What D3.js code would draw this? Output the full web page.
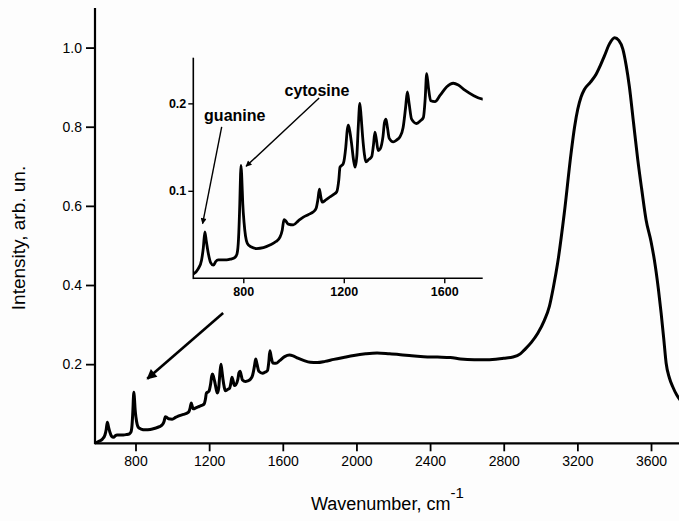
<!DOCTYPE html>
<html>
<head>
<meta charset="utf-8">
<script src="https://cdn.jsdelivr.net/npm/d3@7"></script>
<style>
  html, body { margin: 0; padding: 0; background: #fdfdfd; }
  svg { display: block; font-family: "Liberation Sans", Arial, sans-serif; }
</style>
</head>
<body>
<svg id="chart" width="679" height="521"></svg>
<script>
// ---- data ----
const wavenumber = [580, 601, 621, 634, 641, 647, 653, 661, 670, 681, 690, 700, 720, 734, 750, 767, 775, 781, 786, 789, 791, 794, 798, 803, 809, 816, 830, 853, 880, 906, 930, 946, 955, 962, 968, 979, 999, 1020, 1039, 1060, 1079, 1090, 1097, 1103, 1108, 1114, 1130, 1145, 1160, 1172, 1180, 1185, 1198, 1208, 1214, 1218, 1224, 1231, 1239, 1245, 1252, 1258, 1264, 1269, 1275, 1282, 1288, 1300, 1311, 1318, 1324, 1330, 1337, 1345, 1356, 1362, 1368, 1374, 1381, 1397, 1410, 1424, 1436, 1446, 1453, 1460, 1470, 1490, 1505, 1517, 1524, 1530, 1537, 1546, 1563, 1583, 1610, 1636, 1656, 1682, 1716, 1749, 1787, 1830, 1877, 1930, 1986, 2050, 2112, 2180, 2239, 2300, 2365, 2440, 2510, 2565, 2640, 2710, 2800, 2850, 2890, 2912, 2950, 2985, 3020, 3048, 3070, 3093, 3129, 3166, 3185, 3202, 3220, 3238, 3270, 3301, 3325, 3347, 3375, 3402, 3425, 3447, 3465, 3482, 3505, 3528, 3550, 3573, 3600, 3618, 3640, 3655, 3670, 3682, 3700, 3718, 3740, 3760];
const intensity  = [0.000, 0.005, 0.011, 0.021, 0.035, 0.053, 0.042, 0.028, 0.018, 0.015, 0.019, 0.021, 0.021, 0.021, 0.022, 0.024, 0.028, 0.045, 0.085, 0.118, 0.129, 0.115, 0.085, 0.064, 0.048, 0.040, 0.036, 0.034, 0.035, 0.038, 0.042, 0.047, 0.055, 0.067, 0.066, 0.062, 0.061, 0.066, 0.070, 0.073, 0.076, 0.080, 0.090, 0.102, 0.094, 0.087, 0.090, 0.093, 0.096, 0.099, 0.112, 0.127, 0.131, 0.150, 0.170, 0.175, 0.168, 0.154, 0.135, 0.127, 0.140, 0.175, 0.200, 0.185, 0.162, 0.142, 0.133, 0.136, 0.139, 0.152, 0.167, 0.158, 0.146, 0.148, 0.162, 0.178, 0.182, 0.172, 0.160, 0.156, 0.158, 0.162, 0.172, 0.195, 0.213, 0.200, 0.182, 0.177, 0.180, 0.184, 0.205, 0.234, 0.218, 0.203, 0.202, 0.209, 0.219, 0.223, 0.221, 0.215, 0.209, 0.205, 0.204, 0.207, 0.212, 0.217, 0.222, 0.226, 0.228, 0.226, 0.224, 0.221, 0.219, 0.218, 0.217, 0.213, 0.211, 0.211, 0.215, 0.218, 0.226, 0.236, 0.255, 0.278, 0.310, 0.346, 0.395, 0.456, 0.582, 0.734, 0.800, 0.844, 0.875, 0.894, 0.912, 0.932, 0.955, 0.979, 1.010, 1.025, 1.018, 0.996, 0.955, 0.903, 0.810, 0.717, 0.640, 0.565, 0.510, 0.464, 0.390, 0.329, 0.260, 0.203, 0.165, 0.143, 0.122, 0.108];

const mainXTicks = [800, 1200, 1600, 2000, 2400, 2800, 3200, 3600];
const mainYTicks = [0.2, 0.4, 0.6, 0.8, 1.0];
const insetXTicks = [800, 1200, 1600];
const insetYTicks = [0.1, 0.2];

const labelNames  = ["guanine", "cytosine"];
const labelWn     = [644, 964];
const labelVal    = [0.180, 0.208];
const arrowFromWn = [714, 1102];
const arrowFromV  = [0.173, 0.206];
const arrowToWn   = [638, 811];
const arrowToV    = [0.0625, 0.128];
const mainArrowWn = [1276, 864];
const mainArrowV  = [0.329, 0.163];

const spectrum = wavenumber.map((w, i) => ({ w, v: intensity[i] }));

// ---- layout ----
const svg = d3.select("#chart");
const M = { left: 95, right: 679, top: 8, bottom: 443.3 };
const I = { left: 193.3, right: 482.7, top: 57.7, bottom: 278.3 };

const x = d3.scaleLinear().domain([580, 3752]).range([M.left, M.right]);
const y = d3.scaleLinear().domain([0, 1.1]).range([M.bottom, M.top]);
const xi = d3.scaleLinear().domain([601, 1753]).range([I.left, I.right]);
const yi = d3.scaleLinear().domain([0, 0.2522]).range([I.bottom, I.top]);

const defs = svg.append("defs");
defs.append("clipPath").attr("id", "clipMain").append("rect")
  .attr("x", M.left).attr("y", 0).attr("width", M.right - M.left + 5).attr("height", M.bottom);
defs.append("clipPath").attr("id", "clipInset").append("rect")
  .attr("x", I.left).attr("y", I.top - 5).attr("width", I.right - I.left).attr("height", I.bottom - I.top + 5);
defs.append("marker").attr("id", "bigHead").attr("viewBox", "0 0 10 10")
  .attr("refX", 9).attr("refY", 5).attr("markerWidth", 11).attr("markerHeight", 10)
  .attr("markerUnits", "userSpaceOnUse").attr("orient", "auto")
  .append("path").attr("d", "M0,0 L10,5 L0,10 z").attr("fill", "#000");
defs.append("marker").attr("id", "smallHead").attr("viewBox", "0 0 10 10")
  .attr("refX", 9).attr("refY", 5).attr("markerWidth", 8).attr("markerHeight", 6)
  .attr("markerUnits", "userSpaceOnUse").attr("orient", "auto")
  .append("path").attr("d", "M0,0 L10,5 L0,10 z").attr("fill", "#000");

// ---- main spectrum ----
const line = d3.line().x(d => x(d.w)).y(d => y(d.v)).curve(d3.curveMonotoneX);
svg.append("path").datum(spectrum).attr("d", line)
  .attr("clip-path", "url(#clipMain)")
  .attr("fill", "none").attr("stroke", "#000").attr("stroke-width", 3)
  .attr("stroke-linejoin", "round");

// main axes
const gx = svg.append("g").attr("transform", `translate(0,${M.bottom})`)
  .call(d3.axisBottom(x).tickValues(mainXTicks).tickSize(8).tickPadding(5).tickFormat(d3.format("d")));
const gy = svg.append("g").attr("transform", `translate(${M.left},0)`)
  .call(d3.axisLeft(y).tickValues(mainYTicks).tickSize(9).tickPadding(4).tickFormat(d3.format(".1f")));
[gx, gy].forEach(g => {
  g.select(".domain").remove();
  g.selectAll(".tick line").attr("stroke", "#000").attr("stroke-width", 1.8);
  g.selectAll(".tick text").attr("fill", "#000").style("font-size", "14px");
});
svg.append("line").attr("x1", M.left).attr("x2", M.right).attr("y1", M.bottom).attr("y2", M.bottom)
  .attr("stroke", "#000").attr("stroke-width", 2.2);
svg.append("line").attr("x1", M.left).attr("x2", M.left).attr("y1", M.top).attr("y2", M.bottom + 1)
  .attr("stroke", "#000").attr("stroke-width", 2.2);

// axis titles
const xt = svg.append("text").attr("x", 311).attr("y", 510).style("font-size", "18px").attr("fill", "#000");
xt.append("tspan").text("Wavenumber, cm");
xt.append("tspan").attr("dy", -12).style("font-size", "15px").text("-1");
svg.append("text").attr("transform", "translate(25,238) rotate(-90)").attr("text-anchor", "middle")
  .style("font-size", "19px").attr("fill", "#000").text("Intensity, arb. un.");

// main arrow
svg.append("line")
  .attr("x1", x(mainArrowWn[0])).attr("y1", y(mainArrowV[0]))
  .attr("x2", x(mainArrowWn[1])).attr("y2", y(mainArrowV[1]))
  .attr("stroke", "#000").attr("stroke-width", 2.6).attr("marker-end", "url(#bigHead)");

// ---- inset ----
const linei = d3.line().x(d => xi(d.w)).y(d => yi(d.v)).curve(d3.curveMonotoneX);
svg.append("path").datum(spectrum.filter(d => d.w >= 590 && d.w <= 1800)).attr("d", linei)
  .attr("clip-path", "url(#clipInset)")
  .attr("fill", "none").attr("stroke", "#000").attr("stroke-width", 2.8)
  .attr("stroke-linejoin", "round");

const gxi = svg.append("g").attr("transform", `translate(0,${I.bottom})`)
  .call(d3.axisBottom(xi).tickValues(insetXTicks).tickSize(5).tickPadding(4).tickFormat(d3.format("d")));
const gyi = svg.append("g").attr("transform", `translate(${I.left},0)`)
  .call(d3.axisLeft(yi).tickValues(insetYTicks).tickSize(5).tickPadding(2).tickFormat(d3.format(".1f")));
[gxi, gyi].forEach(g => {
  g.select(".domain").remove();
  g.selectAll(".tick line").attr("stroke", "#000").attr("stroke-width", 1.4);
  g.selectAll(".tick text").attr("fill", "#000").style("font-size", "12.5px").style("font-weight", "bold");
});
svg.append("line").attr("x1", I.left).attr("x2", I.right).attr("y1", I.bottom).attr("y2", I.bottom)
  .attr("stroke", "#000").attr("stroke-width", 1.6);
svg.append("line").attr("x1", I.left).attr("x2", I.left).attr("y1", I.top).attr("y2", I.bottom + 0.8)
  .attr("stroke", "#000").attr("stroke-width", 1.6);

// labels and arrows
labelNames.forEach((name, i) => {
  svg.append("text").attr("x", xi(labelWn[i])).attr("y", yi(labelVal[i]))
    .style("font-size", "16px").style("font-weight", "bold").attr("fill", "#000").text(name);
  svg.append("line")
    .attr("x1", xi(arrowFromWn[i])).attr("y1", yi(arrowFromV[i]))
    .attr("x2", xi(arrowToWn[i])).attr("y2", yi(arrowToV[i]))
    .attr("stroke", "#000").attr("stroke-width", 1.4).attr("marker-end", "url(#smallHead)");
});
</script>
</body>
</html>
